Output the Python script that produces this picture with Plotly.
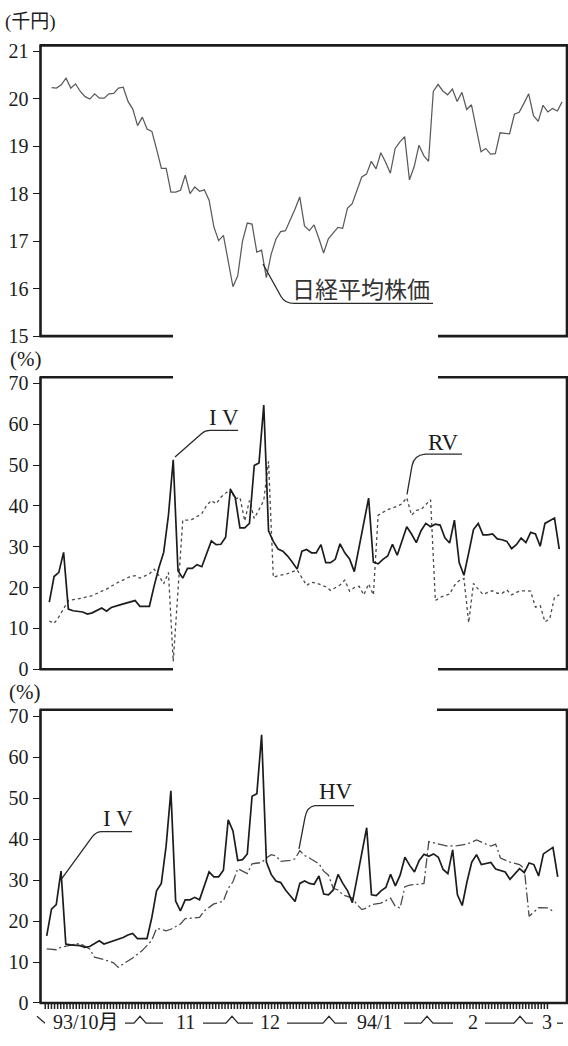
import numpy as np
import plotly.graph_objects as go

# ---------------- data (trading-day index from start of Oct 1993) ----------------
nikkei_day = list(range(108))
nikkei = [20.23, 20.22, 20.29, 20.43, 20.22, 20.31, 20.15, 20.04, 19.99, 20.10,
          20.01, 20.01, 20.10, 20.11, 20.22, 20.24, 19.94, 19.78, 19.43, 19.61,
          19.36, 19.31, 18.93, 18.53, 18.53, 18.03, 18.03, 18.07, 18.39, 18.00,
          18.14, 18.05, 18.08, 17.86, 17.30, 17.01, 17.12, 16.58, 16.04, 16.27,
          17.00, 17.38, 17.36, 16.77, 16.81, 16.23, 16.72, 17.04, 17.20, 17.22,
          17.43, 17.67, 17.93, 17.32, 17.22, 17.34, 17.06, 16.75, 17.05, 17.17,
          17.29, 17.27, 17.69, 17.79, 18.07, 18.35, 18.41, 18.68, 18.52, 18.86,
          18.66, 18.43, 18.95, 19.09, 19.20, 18.29, 18.57, 19.02, 18.80, 18.68,
          20.15, 20.30, 20.16, 20.08, 20.20, 19.94, 20.13, 19.77, 19.87, 19.35,
          18.88, 18.95, 18.83, 18.84, 19.28, 19.27, 19.26, 19.67, 19.71, 19.90,
          20.10, 19.64, 19.52, 19.86, 19.72, 19.79, 19.74, 19.93]

iv2_day = [0, 1, 2, 3, 4, 5, 7, 8, 9, 11, 12, 13, 15, 17, 18, 19,
           21, 22, 23, 24, 25, 26, 27, 28, 29, 30, 31, 32, 33, 34, 35, 36, 37, 38, 39, 40,
           41, 42, 43, 44, 45, 46, 47, 48, 49, 50, 51, 52, 53, 54, 55, 56, 57, 58, 59, 60,
           61, 62, 63, 64,
           67, 68, 69, 70, 71, 72, 73, 74, 75, 76, 77, 78, 79, 80, 81, 82, 83, 84, 85, 86,
           87, 88, 89, 90, 91, 92, 93, 94, 95, 96, 97, 98, 99, 100, 101, 102, 103, 104, 105,
           106, 107]
iv2 = [16.4, 22.7, 23.7, 28.6, 14.7, 14.3, 14.0, 13.5, 13.8, 15.0, 14.2, 15.1, 15.8, 16.4, 16.8, 15.4,
       15.4, 20.4, 24.9, 28.6, 37.7, 51.3, 24.1, 22.3, 24.7, 24.7, 25.6, 25.1, 28.5, 31.4, 30.5, 30.6, 32.3, 44.0, 42.1, 34.6,
       34.6, 35.7, 49.9, 50.5, 64.7, 33.9, 31.3, 29.4, 28.9, 27.7, 26.2, 24.5, 28.9, 29.3, 28.5, 28.5, 30.5, 26.1, 26.1, 26.9,
       30.7, 28.5, 27.0, 23.9,
       41.9, 26.2, 25.8, 26.9, 27.7, 30.6, 27.9, 31.3, 34.9, 33.1, 31.0, 33.9, 35.7, 34.9, 35.5, 35.3, 32.2, 30.9, 36.5, 26.1,
       23.0, 28.5, 34.2, 35.7, 32.9, 32.9, 33.1, 31.9, 31.7, 31.3, 29.5, 30.5, 32.1, 31.0, 33.5, 33.1, 30.1, 35.7, 36.3,
       37.0, 29.4]

rv_day = [0, 1, 2, 3, 4, 6, 7, 9, 11, 12, 14, 16, 17, 18, 19, 21, 22, 23, 24, 25, 26,
          28, 29, 30, 32, 33, 34, 35, 36, 38, 39, 40, 41, 42, 43, 45, 46, 47, 48, 50, 52,
          54, 55, 56, 58, 59, 61, 62, 63, 64, 65, 66, 67, 68, 69, 71, 73, 74, 75, 76, 77, 78,
          80, 81, 82, 84, 85, 86, 87, 88, 89, 90, 91, 92, 93, 94, 95, 96, 97, 98, 99, 100,
          101, 102, 103, 104, 105, 106, 107]
rv = [11.8, 11.2, 12.8, 14.8, 16.8, 17.2, 17.5, 18.0, 19.1, 19.6, 21.0, 22.1, 22.7, 22.9, 22.3, 23.3, 24.5, 22.9, 20.9, 23.7, 1.9,
      36.5, 36.5, 36.7, 38.1, 40.1, 41.3, 40.5, 42.1, 44.1, 41.7, 42.1, 36.3, 41.3, 36.9, 41.3, 50.9, 22.5, 22.9, 23.4, 24.3,
      20.5, 21.3, 21.1, 20.2, 19.3, 20.6, 21.8, 19.1, 20.0, 20.3, 18.2, 20.9, 18.2, 37.7, 39.1, 39.9, 40.5, 42.0, 37.7, 38.9, 39.1,
      41.5, 16.8, 17.6, 18.4, 20.5, 21.7, 22.2, 11.4, 21.0, 19.6, 18.3, 18.8, 19.2, 18.6, 18.6, 19.4, 18.2, 18.8, 19.2, 19.2,
      19.1, 15.2, 15.6, 11.6, 12.3, 17.6, 18.2]

iv3_day = [0, 1, 2, 3, 4, 5, 7, 8, 9, 11, 12, 14, 16, 17, 18, 19, 21,
           22, 23, 24, 25, 26, 27, 28, 29, 30, 31, 32, 33, 34, 35, 36, 37, 38, 39, 40, 41,
           42, 43, 44, 45, 46, 47, 48, 49, 50, 51, 52, 53, 54, 55, 56, 57, 58, 59, 60, 61,
           62, 63, 64,
           67, 68, 69, 70, 71, 72, 73, 74, 75, 76, 77, 78, 79, 80, 81, 82, 83, 84, 85, 86,
           87, 88, 89, 90, 91, 92, 93, 94, 95, 96, 97, 98, 99, 100, 101, 102, 103, 104, 105,
           106, 107]
iv3 = [16.4, 22.9, 24.0, 32.2, 14.4, 14.2, 14.0, 13.6, 13.8, 15.2, 14.4, 15.2, 16.0, 16.6, 17.0, 15.7, 15.7,
       20.8, 27.4, 29.2, 38.3, 51.8, 24.9, 22.5, 25.2, 25.2, 25.8, 25.2, 28.4, 32.0, 30.8, 30.8, 32.4, 44.7, 42.0, 34.8, 35.0,
       36.4, 50.5, 51.1, 65.5, 34.4, 31.4, 29.8, 29.4, 27.6, 26.2, 24.8, 29.2, 29.8, 29.2, 29.0, 31.0, 26.6, 26.4, 27.6, 31.4,
       29.2, 27.4, 24.5,
       42.8, 26.4, 26.2, 27.4, 28.2, 31.4, 28.6, 31.2, 35.6, 33.6, 32.0, 34.8, 36.3, 35.8, 36.4, 35.6, 32.6, 31.6, 37.4, 26.4,
       23.8, 29.6, 34.4, 36.2, 33.8, 34.0, 34.3, 32.7, 32.4, 32.0, 30.2, 31.4, 32.8, 31.8, 34.2, 33.8, 31.0, 36.4, 37.1,
       38.0, 30.8]

hv_day = [0, 2, 3, 5, 6, 7, 9, 10, 12, 14, 15, 16, 18, 20, 22, 23, 24, 25, 26, 28,
          29, 31, 32, 33, 35, 36, 37, 38, 39, 40, 42, 43, 45, 46, 47, 48, 49, 51, 52, 53,
          54, 55, 57, 58, 59, 60, 61, 62, 64, 65, 66, 67, 68, 70, 72, 73, 74, 75, 76, 78,
          79, 80, 82, 84, 86, 88, 90, 92, 93, 94, 95, 97, 99, 100, 101, 102, 103, 105, 106]
hv = [13.2, 13.0, 13.6, 14.2, 14.4, 14.5, 13.2, 11.2, 10.6, 9.8, 8.7, 9.5, 11.0, 12.8, 15.3, 18.2, 18.0, 17.6, 18.0, 19.3,
      20.6, 20.8, 20.9, 22.5, 24.2, 24.5, 24.9, 28.0, 29.6, 32.8, 31.6, 34.0, 34.3, 35.4, 36.2, 35.9, 34.6, 34.8, 35.2, 37.2,
      36.0, 35.4, 34.0, 32.2, 31.2, 28.0, 27.6, 26.4, 25.6, 24.0, 22.8, 23.2, 24.0, 24.4, 25.6, 23.6, 23.2, 28.4, 28.8, 29.0,
      29.2, 39.4, 38.8, 38.3, 38.4, 38.8, 39.8, 38.8, 38.3, 38.8, 35.4, 34.4, 33.8, 32.8, 21.2, 22.2, 23.3, 23.2, 22.4]

nikkei_ticks = [15, 16, 17, 18, 19, 20, 21]
pct_ticks = [0, 10, 20, 30, 40, 50, 60, 70]
month_labels = ["93/10月", "11", "12", "94/1", "2", "3"]

# ---------------- layout helpers (pixel geometry of the page) ----------------
W, H = 568, 1046


def X(px):
    return px / W


def Y(py):
    return 1 - py / H


XL, XR = 40.5, 567.0
P1 = (41.0, 336.3)
P2 = (378.0, 674.5)
P3 = (715.7, 1013.5)

INK = "#1c1c1c"
SERIF = "Liberation Serif, Noto Sans CJK JP"
CJK = "Noto Sans CJK JP"

fig = go.Figure()
fig.add_trace(go.Scatter(x=nikkei_day, y=nikkei, mode="lines", xaxis="x", yaxis="y",
                         line=dict(color="#5a5a5a", width=1.25), showlegend=False))
fig.add_trace(go.Scatter(x=rv_day, y=rv, mode="lines", xaxis="x2", yaxis="y2",
                         line=dict(color="#4a4a4a", width=1.3, dash="3px,3px"), showlegend=False))
fig.add_trace(go.Scatter(x=iv2_day, y=iv2, mode="lines", xaxis="x2", yaxis="y2",
                         line=dict(color=INK, width=1.7), showlegend=False))
fig.add_trace(go.Scatter(x=hv_day, y=hv, mode="lines", xaxis="x3", yaxis="y3",
                         line=dict(color="#4a4a4a", width=1.3, dash="10px,3px,2px,3px"), showlegend=False))
fig.add_trace(go.Scatter(x=iv3_day, y=iv3, mode="lines", xaxis="x3", yaxis="y3",
                         line=dict(color=INK, width=1.7), showlegend=False))


def xr(start_px, step_px):
    return [(XL - start_px) / step_px, (XR - start_px) / step_px]


hidden_x = dict(showgrid=False, zeroline=False, showline=False, ticks="", showticklabels=False,
                domain=[X(XL), X(XR)])


def yax(dom, rng, tv, anchor):
    return dict(domain=[Y(dom[1]), Y(dom[0])], range=rng, anchor=anchor, tickvals=tv,
                ticks="outside", ticklen=7, tickwidth=1.4, tickcolor=INK,
                showgrid=False, zeroline=False, showline=False,
                tickfont=dict(family=SERIF, size=20, color=INK))


fig.update_layout(
    width=W, height=H, margin=dict(l=0, r=0, t=0, b=0),
    paper_bgcolor="white", plot_bgcolor="white",
    xaxis=dict(hidden_x, range=xr(51.7, 4.77), anchor="y"),
    xaxis2=dict(hidden_x, range=xr(49.3, 4.766), anchor="y2"),
    xaxis3=dict(hidden_x, range=xr(46.7, 4.776), anchor="y3"),
    yaxis=yax(P1, [15, 21.12], nikkei_ticks, "x"),
    yaxis2=yax(P2, [0, 71.5], pct_ticks, "x2"),
    yaxis3=yax(P3, [0, 71.6], pct_ticks, "x3"),
)

# ---------------- frame (broken box) ----------------
shapes = []


def seg(x0, y0, x1, y1, w=2.6, color=INK, dash=None):
    ln = dict(color=color, width=w)
    if dash:
        ln["dash"] = dash
    shapes.append(dict(type="line", xref="paper", yref="paper", x0=X(x0), y0=Y(y0), x1=X(x1), y1=Y(y1),
                       line=ln))


# comb of small ticks under the bottom axis: a thick dashed stroke
seg(44.5, P3[1] + 3.6, 549, P3[1] + 3.6, w=5.0, color="#222222", dash="1.5px,1.6px")

GAP_L, GAP_R = 173, 438
# panel 1
seg(XL - 1, P1[0], W, P1[0])
seg(XL, P1[0], XL, P1[1])
seg(XR, P1[0], XR, P1[1])
seg(XL - 1, P1[1], GAP_L, P1[1])
seg(GAP_R, P1[1], W, P1[1])
# panel 2
seg(XL - 1, P2[0], GAP_L, P2[0])
seg(GAP_R, P2[0], W, P2[0])
seg(XL, P2[0], XL, P2[1])
seg(XR, P2[0], XR, P2[1])
seg(XL - 1, P2[1], GAP_L, P2[1])
seg(GAP_R, P2[1], W, P2[1])
# panel 3
seg(XL - 1, P3[0], GAP_L, P3[0])
seg(GAP_R - 1, P3[0], W, P3[0])
seg(XL, P3[0], XL, P3[1])
seg(XR, P3[0], XR, P3[1])
seg(XL - 1, P3[1], W, P3[1])


def pt(p):
    return f"{X(p[0]):.5f},{Y(p[1]):.5f}"


def path(cmds, w=1.3, color="#2a2a2a"):
    d = " ".join(cmd + " " + " ".join(pt(p) for p in pts) for cmd, *pts in cmds)
    shapes.append(dict(type="path", xref="paper", yref="paper", path=d,
                       line=dict(color=color, width=w)))


def polyline(pts, w=1.3, color="#2a2a2a"):
    path([("M", pts[0])] + [("L", p) for p in pts[1:]], w=w, color=color)


# leader lines for labels
path([("M", (263, 263)), ("L", (281, 296)), ("Q", (285, 303), (294, 303)), ("L", (433, 303))])
path([("M", (175, 459)), ("L", (202, 435)), ("Q", (205, 432), (210, 432)), ("L", (238, 432))])
path([("M", (462, 456)), ("L", (425, 456)), ("Q", (414, 457), (412, 468)), ("L", (407, 497))])
path([("M", (62, 887)), ("L", (92, 845)), ("Q", (96, 839.5), (102, 839.5)), ("L", (132, 839.5))])
path([("M", (354, 813)), ("L", (315, 813)), ("Q", (307, 814), (305, 825)), ("L", (299, 857))])

# month brackets under the x axis
LB, PK = 1034, 1027
polyline([(37, PK), (45, LB)])
for a, b, c in [(125, 140, 163), (203, 232, 253), (287, 329, 347), (404, 427, 453), (485, 520, 533)]:
    polyline([(a, LB), (b - 6, LB), (b, PK), (b + 6, LB), (c, LB)])
polyline([(557, LB), (563, LB)])

fig.update_layout(shapes=shapes)

# ---------------- text ----------------
ann = []


def text(s, px, py, size, family=SERIF, color=INK, anchor="center"):
    ann.append(dict(text=s, x=X(px), y=Y(py), xref="paper", yref="paper", showarrow=False,
                    xanchor=anchor, yanchor="middle", font=dict(family=family, size=size, color=color)))


text("(千円)", 30, 17, 19)
text("(%)", 25, 360, 21)
text("(%)", 24, 698, 21)
text("日経平均株価", 361, 287, 23, family=CJK, color="#333")
text("I V", 224, 419, 23)
text("RV", 443, 444, 23)
text("I V", 118, 826, 23)
text("HV", 336, 799, 23)
for lab, cx in zip(month_labels, [85.5, 185.5, 270, 375, 473, 547]):
    text(lab, cx, 1033, 20)

fig.update_layout(annotations=ann)
fig.write_html("out.html")
